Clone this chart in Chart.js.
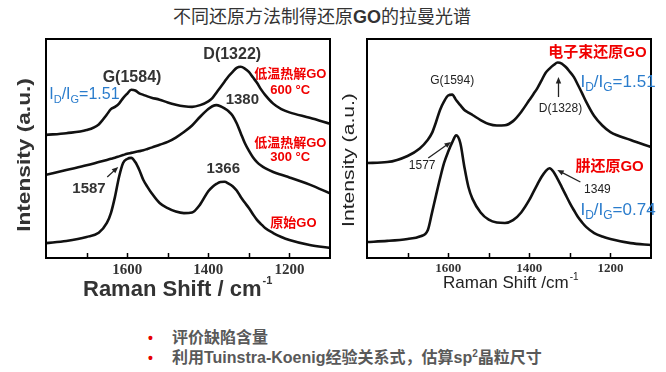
<!DOCTYPE html>
<html lang="zh">
<head>
<meta charset="UTF-8">
<title>不同还原方法制得还原GO的拉曼光谱</title>
<script src="https://cdn.jsdelivr.net/npm/chart.js"></script>
<style>
    body {
        margin: 0;
        width: 666px;
        height: 372px;
        background: #fff;
        position: relative;
        overflow: hidden;
        font-family: "Liberation Sans", "Noto Sans CJK SC", sans-serif;
    }

    .title {
        position: absolute;
        top: 5px;
        left: 0;
        width: 644px;
        text-align: center;
        font-size: 18px;
        line-height: 24px;
        color: #333;
    }

    #left, #right {
        position: absolute;
        top: 30px;
    }

    #left { left: 0; }
    #right { left: 335px; }

    .bullets {
        position: absolute;
        left: 172px;
        top: 328px;
        font-size: 16px;
        font-weight: bold;
        line-height: 20px;
        color: #595959;
    }

    .bullets div { position: relative; white-space: nowrap; }

    .dot {
        position: absolute;
        left: -24px;
        color: #e60000;
        font-size: 14px;
    }

    .sup {
        font-size: 10px;
        position: relative;
        top: -6px;
    }
</style>
</head>
<body>
    <div class="title">不同还原方法制得还原<b>GO</b>的拉曼光谱</div>

    <canvas id="left" width="340" height="275"></canvas>
    <canvas id="right" width="331" height="275"></canvas>

    <div class="bullets">
        <div><span class="dot">•</span>评价缺陷含量</div>
        <div><span class="dot">•</span>利用Tuinstra-Koenig经验关系式，估算sp<span class="sup">2</span>晶粒尺寸</div>
    </div>

<script>
// Raman shift grid (cm-1), shared by every spectrum
const shift = [1800, 1750, 1700, 1670, 1650, 1640, 1630, 1620, 1610, 1600, 1590, 1580, 1570, 1560, 1550, 1540,
    1520, 1500, 1480, 1460, 1440, 1420, 1400, 1390, 1380, 1370, 1360, 1350, 1340, 1330, 1320, 1310, 1300,
    1290, 1280, 1270, 1260, 1240, 1220, 1200, 1150, 1100];

// left panel: thermal reduction
const go600 = [56.2, 57, 58.4, 61, 65.5, 68, 69, 70.5, 73, 75, 76.8, 76.5, 75.2, 74.5, 73.8, 73.2,
    72.3, 71, 70, 69.3, 69, 69.8, 71.5, 73, 75.5, 78, 80.5, 83, 85, 86.8, 87.3, 86.5, 85,
    82.5, 80, 77, 74.5, 70.5, 68, 66.5, 64, 61.3];
const go300 = [38, 40.2, 42.3, 43.8, 44.8, 45.3, 45.8, 46.4, 47, 47.6, 48, 48.4, 48.8, 49.2, 49.8, 50.4,
    51.7, 53, 55, 57.5, 60.5, 64.5, 68, 69.3, 69.8, 69.3, 68.3, 67, 65, 61.5, 57, 52.5, 49,
    46, 43.8, 42.2, 41, 39.3, 38, 36.8, 33.5, 29.5];
const goRaw = [6.8, 7.8, 9.6, 11.5, 16, 20.5, 27.9, 37, 43.4, 45.2, 45.7, 43.8, 40.2, 35.6, 32.5, 29.7,
    25.1, 22.8, 21.2, 20.5, 20.8, 24.5, 30.5, 32.4, 33.8, 34.7, 34.8, 34, 32.8, 30.8, 27.9, 25.3, 22.8,
    20, 17.4, 15.5, 13.7, 11.4, 9.6, 8.2, 5.9, 4.6];

// right panel: electron beam vs hydrazine
const goEbeam = [43.4, 43.8, 46.6, 50, 54, 57, 62, 67.6, 71.5, 74.2, 74.6, 72, 69.8, 67.6, 66.4, 65.3,
    63, 61.2, 60.5, 60.6, 62.5, 66.7, 72.1, 74.8, 77.6, 81, 84.5, 86.5, 88.1, 89.3, 88.8, 87.2, 85,
    82.6, 79, 75.3, 71.4, 64.8, 60.5, 57.5, 53.9, 50.7];
const goHydrazine = [7.3, 7.8, 8.7, 9.8, 12.8, 20.5, 28.5, 36.3, 43.4, 48.5, 52.8, 56, 52.5, 41.6, 32.4, 27,
    20.8, 17.5, 16.2, 16, 17.3, 20.8, 26.5, 30.1, 33.6, 37, 39.6, 41, 39.3, 36, 32.4, 28.7, 25.1,
    21.8, 18.7, 16.3, 14.2, 11.4, 9.8, 8.7, 6.8, 5.9];

const xMin = 1100;
const xMax = 1800;
const tickLabels = [1600, 1400, 1200];

const RED = '#f00000';
const BLUE = '#2a7ccc';
const SANS = '"Liberation Sans", "Noto Sans CJK SC", sans-serif';

function toPoints(values) {
    return shift.map((x, i) => ({ x: x, y: values[i] }));
}

// I_D/I_G style text: "_X" means subscript X
function drawRich(ctx, str, x, y, size, color) {
    ctx.fillStyle = color;
    ctx.textAlign = 'left';
    ctx.textBaseline = 'middle';
    let cx = x;
    for (let i = 0; i < str.length; i++) {
        if (str[i] === '_') {
            i++;
            ctx.font = Math.round(size * 0.68) + 'px ' + SANS;
            ctx.fillText(str[i], cx, y + size * 0.32);
            cx += ctx.measureText(str[i]).width;
        } else {
            ctx.font = size + 'px ' + SANS;
            ctx.fillText(str[i], cx, y);
            cx += ctx.measureText(str[i]).width;
        }
    }
}

const decorPlugin = {
    id: 'decor',
    afterDraw(chart) {
        const cfg = chart.options.plugins.decor;
        const { ctx, chartArea: a } = chart;
        const xs = chart.scales.x, ys = chart.scales.y;
        ctx.save();

        // box frame
        ctx.strokeStyle = '#000';
        ctx.lineWidth = 2;
        ctx.strokeRect(a.left, a.top, a.right - a.left, a.bottom - a.top);

        // inner tick marks
        ctx.lineWidth = 1.5;
        xs.ticks.forEach(t => {
            if (t.value <= xMin || t.value >= xMax) return;
            const px = Math.round(xs.getPixelForValue(t.value)) + 0.5;
            ctx.beginPath();
            ctx.moveTo(px, a.bottom);
            ctx.lineTo(px, a.bottom - 5);
            ctx.stroke();
        });

        // x title with superscript
        const xt = cfg.xTitle;
        ctx.fillStyle = xt.color;
        ctx.textAlign = 'left';
        ctx.textBaseline = 'middle';
        ctx.font = xt.font;
        ctx.fillText(xt.text, xt.x, xt.y);
        const w = ctx.measureText(xt.text).width;
        ctx.font = xt.supFont;
        ctx.fillText('-1', xt.x + w + 1, xt.y - xt.supDy);

        // y title (stretched along its length like the source figure)
        const yt = cfg.yTitle;
        ctx.save();
        ctx.translate(yt.x, yt.y);
        ctx.rotate(-Math.PI / 2);
        ctx.scale(yt.stretch, 1);
        ctx.font = yt.font;
        ctx.fillStyle = yt.color;
        ctx.textAlign = 'center';
        ctx.textBaseline = 'middle';
        ctx.fillText(yt.text, 0, 0);
        ctx.restore();

        // arrows
        ctx.strokeStyle = '#222';
        ctx.fillStyle = '#222';
        ctx.lineWidth = 1.3;
        cfg.arrows.forEach(ar => {
            const x1 = xs.getPixelForValue(ar.from[0]), y1 = ys.getPixelForValue(ar.from[1]);
            const x2 = xs.getPixelForValue(ar.to[0]), y2 = ys.getPixelForValue(ar.to[1]);
            const ang = Math.atan2(y2 - y1, x2 - x1);
            ctx.beginPath();
            ctx.moveTo(x1, y1);
            ctx.lineTo(x2 - 4 * Math.cos(ang), y2 - 4 * Math.sin(ang));
            ctx.stroke();
            ctx.beginPath();
            ctx.moveTo(x2, y2);
            ctx.lineTo(x2 - 7 * Math.cos(ang - 0.4), y2 - 7 * Math.sin(ang - 0.4));
            ctx.lineTo(x2 - 7 * Math.cos(ang + 0.4), y2 - 7 * Math.sin(ang + 0.4));
            ctx.closePath();
            ctx.fill();
        });

        // text labels
        cfg.labels.forEach(l => {
            const px = xs.getPixelForValue(l.x), py = ys.getPixelForValue(l.y);
            if (l.rich) {
                drawRich(ctx, l.text, px, py, l.size, l.color);
                return;
            }
            ctx.font = l.font;
            ctx.fillStyle = l.color;
            ctx.textAlign = 'center';
            ctx.textBaseline = 'middle';
            ctx.fillText(l.text, px, py);
        });

        ctx.restore();
    }
};

function makeChart(id, series, opt) {
    return new Chart(document.getElementById(id), {
        type: 'line',
        data: {
            datasets: series.map(s => ({
                data: toPoints(s),
                borderColor: '#111',
                borderWidth: 2.6,
                pointRadius: 0,
                fill: false,
                cubicInterpolationMode: 'monotone'
            }))
        },
        options: {
            responsive: false,
            animation: false,
            layout: { padding: { top: 9, right: opt.padRight, left: 0, bottom: 0 } },
            plugins: {
                legend: { display: false },
                tooltip: { enabled: false },
                decor: opt.decor
            },
            scales: {
                x: {
                    type: 'linear',
                    reverse: true,
                    min: xMin,
                    max: xMax,
                    grid: { display: false, drawTicks: false },
                    border: { display: false },
                    ticks: {
                        stepSize: 100,
                        autoSkip: false,
                        maxRotation: 0,
                        padding: 3,
                        color: '#333',
                        font: { family: '"Liberation Serif", serif', weight: 'bold', size: opt.tickSize },
                        callback: v => tickLabels.includes(v) ? String(v) : ''
                    },
                    afterFit: scale => { scale.height = 47; }
                },
                y: {
                    min: 0,
                    max: 100,
                    grid: { display: false, drawTicks: false },
                    border: { display: false },
                    ticks: { display: false },
                    afterFit: scale => { scale.width = opt.yWidth; }
                }
            }
        },
        plugins: [decorPlugin]
    });
}

makeChart('left', [go600, go300, goRaw], {
    padRight: 10,
    yWidth: 46,
    tickSize: 15,
    decor: {
        xTitle: { text: 'Raman Shift / cm', x: 83, y: 260, font: 'bold 22px ' + SANS, supFont: 'bold 11px ' + SANS, supDy: 9, color: '#333' },
        yTitle: { text: 'Intensity (a.u.)', x: 25, y: 125, font: 'bold 18px ' + SANS, stretch: 1.26, color: '#333' },
        arrows: [{ from: [1649, 37], to: [1622, 41.6] }],
        labels: [
            { x: 1588, y: 82.6, text: 'G(1584)', font: 'bold 16px ' + SANS, color: '#333' },
            { x: 1341, y: 92.7, text: 'D(1322)', font: 'bold 16px ' + SANS, color: '#333' },
            { x: 1792, y: 74.4, text: 'I_D/I_G=1.51', rich: true, size: 16, color: BLUE },
            { x: 1198, y: 83.6, text: '低温热解GO', font: 'bold 13px ' + SANS, color: RED },
            { x: 1198, y: 76.7, text: '600 °C', font: 'bold 13px ' + SANS, color: RED },
            { x: 1316, y: 72.1, text: '1380', font: 'bold 15px ' + SANS, color: '#333' },
            { x: 1198, y: 52.5, text: '低温热解GO', font: 'bold 13px ' + SANS, color: RED },
            { x: 1198, y: 46.1, text: '300 °C', font: 'bold 13px ' + SANS, color: RED },
            { x: 1363, y: 40.6, text: '1366', font: 'bold 15px ' + SANS, color: '#333' },
            { x: 1694, y: 31.5, text: '1587', font: 'bold 15px ' + SANS, color: '#333' },
            { x: 1190, y: 16, text: '原始GO', font: 'bold 13px ' + SANS, color: RED }
        ]
    }
});

makeChart('right', [goEbeam, goHydrazine], {
    padRight: 15,
    yWidth: 32,
    tickSize: 13,
    decor: {
        xTitle: { text: 'Raman Shift /cm', x: 108, y: 253, font: '17px ' + SANS, supFont: '10px ' + SANS, supDy: 6, color: '#222' },
        yTitle: { text: 'Intensity (a.u.)', x: 15, y: 130, font: '16px ' + SANS, stretch: 1.32, color: '#222' },
        arrows: [
            { from: [1328, 73.5], to: [1328, 82.6] },
            { from: [1649, 45.7], to: [1593, 53] },
            { from: [1274, 34.7], to: [1331, 40.2] }
        ],
        labels: [
            { x: 1590, y: 80.8, text: 'G(1594)', font: '12px ' + SANS, color: '#222' },
            { x: 1232, y: 93.6, text: '电子束还原GO', font: 'bold 15px ' + SANS, color: RED },
            { x: 1274, y: 80.4, text: 'I_D/I_G=1.51', rich: true, size: 17, color: BLUE },
            { x: 1323, y: 68, text: 'D(1328)', font: '12px ' + SANS, color: '#222' },
            { x: 1664, y: 42, text: '1577', font: '12px ' + SANS, color: '#222' },
            { x: 1202, y: 41.6, text: '肼还原GO', font: 'bold 15px ' + SANS, color: RED },
            { x: 1232, y: 31, text: '1349', font: '12px ' + SANS, color: '#222' },
            { x: 1274, y: 21.9, text: 'I_D/I_G=0.74', rich: true, size: 17, color: BLUE }
        ]
    }
});
</script>
</body>
</html>
